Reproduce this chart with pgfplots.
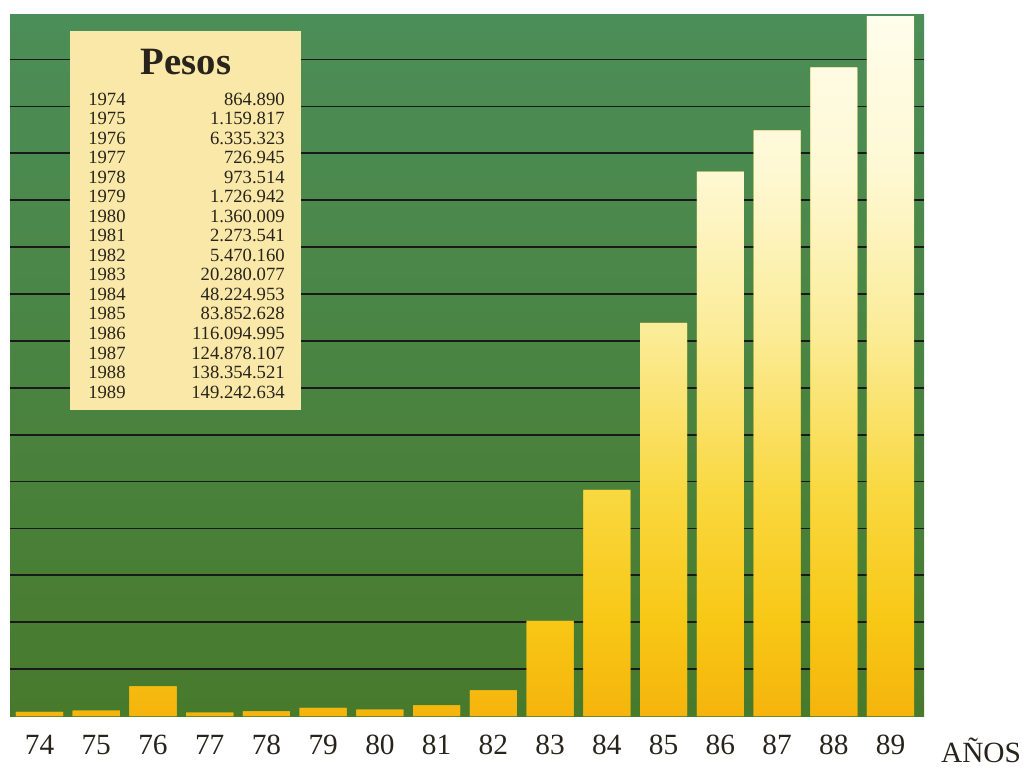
\documentclass[border=0pt]{standalone}
\usepackage{pgfplots}
\pgfplotsset{compat=1.18}
\usepackage{fontspec}
\setmainfont{Liberation Serif}
\definecolor{gtop}{RGB}{76,142,88}
\definecolor{gbot}{RGB}{72,122,44}
\definecolor{b0}{RGB}{245,180,12}
\definecolor{b1}{RGB}{248,200,22}
\definecolor{b2}{RGB}{249,216,64}
\definecolor{b3}{RGB}{251,236,152}
\definecolor{b4}{RGB}{254,248,210}
\definecolor{b5}{RGB}{255,253,236}
\definecolor{boxc}{RGB}{249,232,168}
\definecolor{txt}{RGB}{40,36,28}
\pgfdeclareverticalshading{barsh}{100bp}{color(0bp)=(b0); color(25bp)=(b0); color(32bp)=(b1); color(41bp)=(b2); color(52.5bp)=(b3); color(63.5bp)=(b4); color(75bp)=(b5); color(100bp)=(b5)}
\begin{document}
\begin{tikzpicture}
\path[use as bounding box] (-7.5pt,-39.75pt) rectangle (759.75pt,537pt);
\begin{axis}[at={(0pt,0pt)}, anchor=south west, scale only axis,
  width=685.5pt, height=525.75pt,
  xmin=-0.52, xmax=15.59, ymin=0, ymax=149.5,
  axis background/.style={shade, top color=gtop, bottom color=gbot},
  axis line style={draw=none},
  ytick={10,20,...,140}, yticklabels={},
  ymajorgrids, grid style={line width=1.3pt, color=black!90},
  xtick={0,...,15},
  xticklabels={74,75,76,77,78,79,80,81,82,83,84,85,86,87,88,89},
  major tick length=0pt,
  xticklabel style={font=\fontsize{22}{22}\selectfont, text=txt, anchor=north, yshift=-11pt},
  clip=false,
]
\addplot[ybar, bar width=0.83, draw=none, fill=b1,
  path picture={%
    \pgfpathrectanglecorners{\pgfpointanchor{path picture bounding box}{south west}}%
      {\pgfpointadd{\pgfpointanchor{path picture bounding box}{south east}}{\pgfpoint{0pt}{525.75pt}}}%
    \pgfshadepath{barsh}{0}%
    \pgfusepath{discard}%
  }]
  coordinates {(0,0.864890) (1,1.159817) (2,6.335323) (3,0.726945) (4,0.973514) (5,1.726942) (6,1.360009) (7,2.273541) (8,5.470160) (9,20.280077) (10,48.224953) (11,83.852628) (12,116.094995) (13,124.878107) (14,138.354521) (15,149.242634)};
\end{axis}
\fill[boxc] (45pt,229.5pt) rectangle (218.25pt,513.75pt);
\node[text=txt, font=\fontsize{29}{29}\selectfont\bfseries] at (132pt,490.5pt) {Pesos};
\foreach \yr/\val [count=\i from 0] in {1974/864.890, 1975/1.159.817, 1976/6.335.323, 1977/726.945, 1978/973.514, 1979/1.726.942, 1980/1.360.009, 1981/2.273.541, 1982/5.470.160, 1983/20.280.077, 1984/48.224.953, 1985/83.852.628, 1986/116.094.995, 1987/124.878.107, 1988/138.354.521, 1989/149.242.634}{
  \node[anchor=west, inner sep=0pt, text=txt, font=\fontsize{14}{14}\selectfont] at (58.5pt,{462.75pt-14.65pt*\i}) {\yr};
  \node[anchor=east, inner sep=0pt, text=txt, font=\fontsize{14}{14}\selectfont] at (206.25pt,{462.75pt-14.65pt*\i}) {\val};
}
\node[text=txt, font=\fontsize{22}{22}\selectfont] at (728.25pt,-25.5pt) {AÑOS};
\end{tikzpicture}
\end{document}
